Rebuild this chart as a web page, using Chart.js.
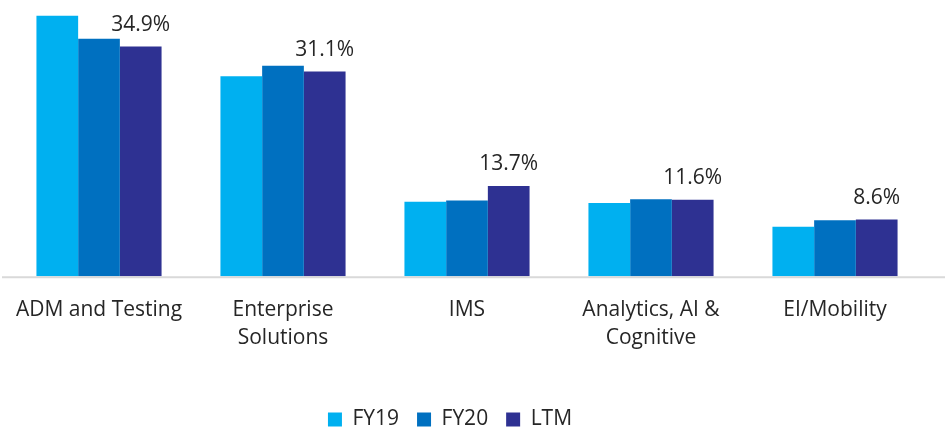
<!DOCTYPE html>
<html>
<head>
<meta charset="utf-8">
<script src="https://cdn.jsdelivr.net/npm/chart.js@4.4.1/dist/chart.umd.min.js"></script>
<style>
  html, body { margin: 0; padding: 0; background: #fff; }
  #wrap { width: 946px; height: 431px; }
</style>
</head>
<body>
<div id="wrap"><canvas id="barChart"></canvas></div>
<script>
var categories = [['ADM and Testing'], ['Enterprise', 'Solutions'], ['IMS'], ['Analytics, AI &', 'Cognitive'], ['EI/Mobility']]
var fy19 = [39.6, 30.4, 11.3, 11.1, 7.5]
var fy20 = [36.1, 32.0, 11.5, 11.7, 8.5]
var ltm = [34.9, 31.1, 13.7, 11.6, 8.6]
var seriesNames = ['FY19', 'FY20', 'LTM']
var seriesColors = ['#00B0F0', '#0070C0', '#2E3192']

var fontFamily = '"Open Sans", "Noto Sans", sans-serif'

// value labels above the LTM bars only
var ltmLabels = {
    id: 'ltmLabels',
    afterDatasetsDraw: function (chart) {
        var ctx = chart.ctx
        var meta = chart.getDatasetMeta(2)
        ctx.save()
        ctx.font = '21px ' + fontFamily
        ctx.fillStyle = '#262626'
        ctx.textAlign = 'center'
        ctx.textBaseline = 'bottom'
        meta.data.forEach(function (bar, i) {
            ctx.fillText(ltm[i].toFixed(1) + '%', bar.x, bar.y - 11)
        })
        ctx.restore()
    }
}

// base line runs the full width of the picture, legend sits a bit left of centre
var baseLine = {
    id: 'baseLine',
    afterLayout: function (chart) {
        chart.legend.left -= 17
        chart.legend.right -= 17
    },
    beforeDatasetsDraw: function (chart) {
        var ctx = chart.ctx
        var y = chart.chartArea.bottom + 1
        ctx.save()
        ctx.strokeStyle = '#D9D9D9'
        ctx.lineWidth = 2
        ctx.beginPath()
        ctx.moveTo(2, y)
        ctx.lineTo(chart.width - 1, y)
        ctx.stroke()
        ctx.restore()
    }
}

var ctx = document.getElementById('barChart').getContext('2d')

new Chart(ctx, {
    type: 'bar',
    data: {
        labels: categories,
        datasets: [
            { label: seriesNames[0], data: fy19, backgroundColor: seriesColors[0] },
            { label: seriesNames[1], data: fy20, backgroundColor: seriesColors[1] },
            { label: seriesNames[2], data: ltm, backgroundColor: seriesColors[2] }
        ]
    },
    options: {
        responsive: true,
        maintainAspectRatio: false,
        animation: false,
        layout: { padding: { top: 13, left: 7, right: 19, bottom: -9 } },
        datasets: {
            bar: { barPercentage: 1.0, categoryPercentage: 0.68 }
        },
        scales: {
            x: {
                grid: { display: false },
                border: { display: false },
                afterFit: function (scale) { scale.height += 27 },
                ticks: {
                    color: '#262626',
                    padding: 12,
                    maxRotation: 0,
                    font: { family: fontFamily, size: 21, lineHeight: 1.33 }
                }
            },
            y: {
                display: false,
                min: 0,
                max: 40
            }
        },
        plugins: {
            legend: {
                position: 'bottom',
                labels: {
                    boxWidth: 14,
                    boxHeight: 14,
                    padding: 18,
                    color: '#262626',
                    font: { family: fontFamily, size: 21 }
                }
            },
            tooltip: { enabled: false }
        }
    },
    plugins: [ltmLabels, baseLine]
})
</script>
</body>
</html>
